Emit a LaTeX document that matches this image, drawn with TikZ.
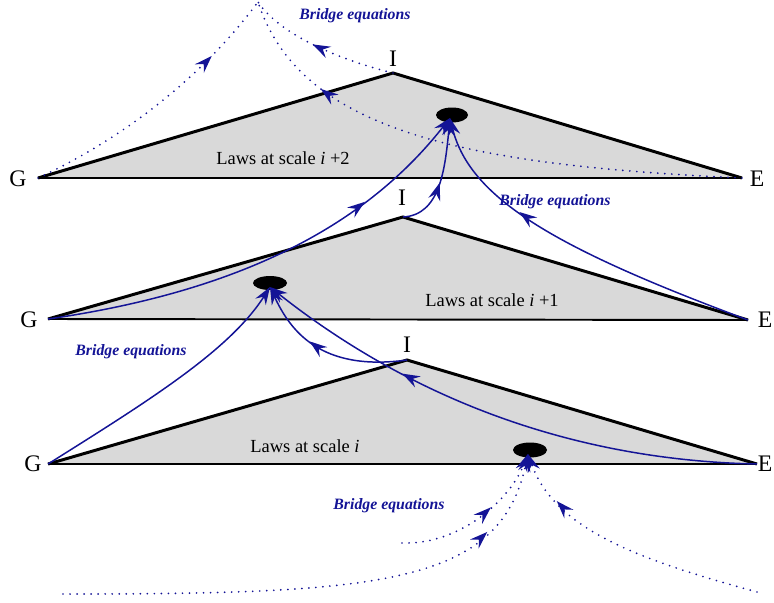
\documentclass[tikz,border=0pt]{standalone}
\usepackage{fontspec}
\setmainfont{Liberation Serif}
\usepackage{tikz}
\usetikzlibrary{positioning,calc}
\usetikzlibrary{arrows.meta,decorations.markings}
\definecolor{BridgeBlue}{RGB}{20,20,150}
\definecolor{LawGray}{RGB}{217,217,217}
\tikzset{
	rim/.style={draw=black,line width=1.7pt,line join=miter},
	base/.style={draw=black,line width=1.1pt},
	corner/.style={font=\fontsize{13.5}{14}\selectfont,inner sep=0pt},
	lawtxt/.style={font=\fontsize{10.5}{12}\selectfont,inner sep=0pt},
	bridgetxt/.style={text=BridgeBlue,font=\fontsize{9}{10}\selectfont\bfseries\itshape,inner sep=0pt},
	flow/.style={draw=BridgeBlue,line width=0.85pt,-{Stealth[length=10pt,width=7pt,inset=3.5pt]}},
	bridge/.style={flow,line width=1.1pt,dash pattern=on 0pt off 4pt,line cap=round},
	midtip/.style={postaction={decorate},decoration={markings,
		mark=at position #1 with {\arrow{Stealth[length=10pt,width=7pt,inset=3.5pt,line cap=butt]}}}},
}

\begin{document}
\begin{tikzpicture}[x=0.02cm,y=-0.02cm]
	\useasboundingbox (0,0) rectangle (774,602);
	% corners of the three scales
	\coordinate (G1) at (38,178);
	\coordinate (I1) at (393,73);
	\coordinate (E1) at (742,178);
	\coordinate (G2) at (48,319);
	\coordinate (I2) at (403,217);
	\coordinate (E2) at (748,320);
	\coordinate (G3) at (48,464);
	\coordinate (I3) at (407,360);
	\coordinate (E3) at (757,464);
	\coordinate (P) at (258,2);
	\foreach \k in {1,2,3}{
		\fill[LawGray] (G\k) -- (I\k) -- (E\k) -- cycle;
		\draw[rim] (G\k) -- (I\k) -- (E\k);
		\draw[base] (G\k) -- (E\k);
	}
	\foreach \k/\gx/\gy/\ix/\iy/\ex/\ey in {1/18/179/393/59/757/179,2/29/320/402/198/765/320,3/33/464/407/345/765/464}{
		\node[corner] (tG\k) at (\gx,\gy) {G};
		\node[corner] (tI\k) at (\ix,\iy) {I};
		\node[corner] (tE\k) at (\ex,\ey) {E};
	}
	\node[lawtxt] (law1) at (283,158) {Laws at scale \textit{i} +2};
	\node[lawtxt] (law2) at (492,300) {Laws at scale \textit{i} +1};
	\node[lawtxt] (law3) at (305,446) {Laws at scale \textit{i}};
	% the spots where the bridges meet
	\fill (452,115) ellipse (16 and 7.5);
	\fill (270,283) ellipse (17 and 7);
	\fill (530,450) ellipse (17 and 7.5);
	\coordinate (T) at (450,118);
	\coordinate (M) at (270,287);
	\coordinate (B) at (528,454);
	% above the top scale
	\draw[bridge,-,midtip=0.75] (G1) .. controls (120,140) and (200,80) .. (P);
	\draw[bridge,-,midtip=0.8] (E1) .. controls (460,165) and (300,130) .. (P);
	\draw[bridge,-,midtip=0.55] (I1) .. controls (340,60) and (280,35) .. (P);
	% into scale i+2
	\draw[flow,midtip=0.74] (G2) .. controls (250,290) and (370,220) .. (T);
	\draw[flow,midtip=0.45] (I2) .. controls (440,215) and (445,170) .. (T);
	\draw[flow,midtip=0.68] (E2) .. controls (560,250) and (470,200) .. (T);
	% into scale i+1
	\draw[flow] (G3) .. controls (150,400) and (230,350) .. (M);
	\draw[flow,midtip=0.6] (I3) .. controls (320,372) and (290,330) .. (M);
	\draw[flow,midtip=0.7] (E3) .. controls (560,460) and (400,390) .. (M);
	% from below scale i
	\coordinate (b1) at (402,543);
	\coordinate (b2) at (63,594);
	\coordinate (b3) at (757,592);
	\draw[bridge,midtip=0.6] (b1) .. controls (460,545) and (510,500) .. (B);
	\draw[bridge,midtip=0.83] (b2) .. controls (380,594) and (500,585) .. (B);
	\draw[bridge,midtip=0.8] (b3) .. controls (640,560) and (555,530) .. (B);
	\node[bridgetxt] (br1) at (355,16) {Bridge equations};
	\node[bridgetxt] (br2) at (555,202) {Bridge equations};
	\node[bridgetxt] (br3) at (131,352) {Bridge equations};
	\node[bridgetxt] (br4) at (389,506) {Bridge equations};
\end{tikzpicture}
\end{document}
